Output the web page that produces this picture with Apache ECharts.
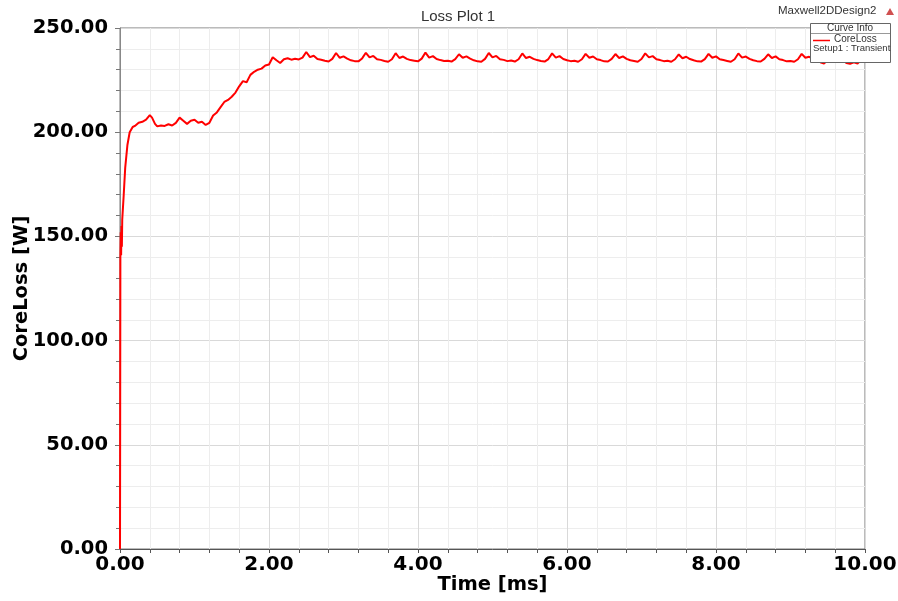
<!DOCTYPE html>
<html>
<head>
<meta charset="utf-8">
<script src="https://cdn.jsdelivr.net/npm/echarts@6/dist/echarts.min.js"></script>
<style>html,body{margin:0;padding:0;background:#fff;}#c{width:898px;height:601px;}</style>
</head>
<body>
<div id="c"></div>
<script>
const xTicks = [0, 2, 4, 6, 8, 10];
const yTicks = [0, 50, 100, 150, 200, 250];
const time = [
0.000,0.005,0.010,0.015,0.020,0.025,0.030,0.05,0.07,0.10,0.13,0.17,
0.20,0.25,0.30,0.35,0.40,0.43,0.47,0.50,0.55,0.60,0.65,0.70,0.75,0.80,0.85,0.90,0.95,
1.00,1.05,1.10,1.15,1.20,1.25,1.30,1.35,1.40,1.45,1.50,1.55,1.60,1.65,1.70,1.75,1.80,1.85,1.90,1.95,
2.00,2.05,2.10,2.15,2.20,2.25,2.30,2.35,2.40,2.45,
2.50,2.55,2.60,2.65,2.70,2.75,2.80,2.85,
2.90,2.95,3.00,3.05,3.10,3.15,3.20,3.25,
3.30,3.35,3.40,3.45,3.50,3.55,3.60,3.65,
3.70,3.75,3.80,3.85,3.90,3.95,4.00,4.05,
4.10,4.15,4.20,4.25,4.30,4.35,4.40,4.45,4.50,
4.55,4.60,4.65,4.70,4.75,4.80,4.85,4.90,
4.95,5.00,5.05,5.10,5.15,5.20,5.25,5.30,5.35,
5.40,5.45,5.50,5.55,5.60,5.65,5.70,5.75,
5.80,5.85,5.90,5.95,6.00,6.05,6.10,6.15,6.20,
6.25,6.30,6.35,6.40,6.45,6.50,6.55,6.60,
6.65,6.70,6.75,6.80,6.85,6.90,6.95,7.00,
7.05,7.10,7.15,7.20,7.25,7.30,7.35,7.40,7.45,
7.50,7.55,7.60,7.65,7.70,7.75,7.80,7.85,
7.90,7.95,8.00,8.05,8.10,8.15,8.20,8.25,
8.30,8.35,8.40,8.45,8.50,8.55,8.60,8.65,
8.70,8.75,8.80,8.85,8.90,8.95,9.00,9.05,9.10,
9.15,9.20,9.25,9.30,9.35,9.40,9.45,9.50,
9.55,9.60,9.65,9.70,9.75,9.80,9.85,9.90,9.95,
10.00
];
const coreLoss = [
0,140,152,141,155,145,158,170,183,194,200,202.5,
203,204.5,205,206,208.2,207,204,202.8,203.2,203,203.8,203.2,204.5,207,205.5,204,205.5,
206,204.5,205,203.5,204.5,208,209.5,212,214.5,215.5,217,219,222,224.5,224,227.5,229,230,230.5,232,
232.5,236,234.5,233.2,235,235.5,234.8,235.2,234.9,235.8,
238.5,236.0,236.7,235.1,234.8,234.3,233.9,235.2,
238.0,235.7,236.4,235.3,234.5,234.1,234.0,235.4,
238.1,235.9,236.6,235.0,234.7,234.2,233.8,235.0,
237.9,235.6,236.3,235.2,234.6,234.3,234.0,235.3,
238.2,235.8,236.5,235.1,234.6,234.2,234.3,233.9,235.1,
237.4,235.7,236.4,235.3,234.5,234.0,233.8,235.2,
238.0,235.9,236.6,235.0,234.7,234.1,234.4,233.9,235.0,
237.8,235.6,236.2,235.2,234.6,234.2,233.9,235.1,
237.8,235.8,236.5,235.1,234.5,234.1,234.3,233.8,235.0,
237.6,235.7,236.3,235.0,234.6,234.0,233.9,235.2,
237.5,235.6,236.4,235.2,234.5,234.2,233.8,235.1,
237.8,235.9,236.5,235.0,234.6,234.1,234.3,233.8,235.0,
237.3,235.5,236.2,235.1,234.5,234.0,233.9,235.1,
237.6,235.7,236.4,235.0,234.6,234.2,233.8,235.0,
237.8,235.8,236.3,235.2,234.5,234.1,233.9,235.2,
237.4,235.6,236.4,235.0,234.6,234.0,234.2,233.8,235.0,
237.6,235.7,236.2,235.1,234.5,233.6,233.0,234.8,
237.8,235.5,236.2,234.8,233.2,232.8,233.5,233.0,234.8,
237.5
];
const seriesData = time.map((t, i) => [t, coreLoss[i]]);

const chart = echarts.init(document.getElementById('c'), null, {renderer: 'canvas'});
const boldFont = '"DejaVu Sans", sans-serif';
const thinFont = 'Arial, "Liberation Sans", sans-serif';
chart.setOption({
  animation: false,
  backgroundColor: '#ffffff',
  title: {
    text: 'Loss Plot 1',
    left: 453, top: 4, textAlign: 'center',
    textStyle: {fontFamily: thinFont, fontSize: 15, fontWeight: 'normal', color: '#333333'}
  },
  grid: {left: 120, right: 33, top: 28, bottom: 52, containLabel: false, outerBoundsMode: 'none',
    show: true, borderColor: '#777777', borderWidth: 1, backgroundColor: 'transparent'},
  xAxis: {
    type: 'value', min: xTicks[0], max: xTicks[xTicks.length - 1], interval: 2,
    name: 'Time [ms]', nameLocation: 'middle', nameGap: 26, nameMoveOverlap: false,
    nameTextStyle: {fontFamily: boldFont, fontSize: 19.5, fontWeight: 'bold', color: '#000'},
    axisLine: {show: true, lineStyle: {color: '#555555', width: 1}},
    axisTick: {show: true, length: 4, lineStyle: {color: '#555555'}},
    minorTick: {show: true, splitNumber: 5, length: 4, lineStyle: {color: '#555555'}},
    splitLine: {show: true, lineStyle: {color: '#d9d9d9', width: 1}},
    minorSplitLine: {show: true, lineStyle: {color: '#ededed', width: 1}},
    axisLabel: {fontFamily: boldFont, fontSize: 20, fontWeight: 'bold', color: '#000', margin: 6,
      formatter: v => v.toFixed(2)}
  },
  yAxis: {
    type: 'value', min: yTicks[0], max: yTicks[yTicks.length - 1], interval: 50,
    name: 'CoreLoss [W]', nameLocation: 'middle', nameGap: 88, nameMoveOverlap: false,
    nameTextStyle: {fontFamily: boldFont, fontSize: 19.5, fontWeight: 'bold', color: '#000'},
    axisLine: {show: true, lineStyle: {color: '#888888', width: 1}},
    axisTick: {show: true, length: 5, lineStyle: {color: '#777777'}},
    minorTick: {show: true, splitNumber: 5, length: 4, lineStyle: {color: '#777777'}},
    splitLine: {show: true, lineStyle: {color: '#d9d9d9', width: 1}},
    minorSplitLine: {show: true, lineStyle: {color: '#ededed', width: 1}},
    axisLabel: {fontFamily: boldFont, fontSize: 19.5, fontWeight: 'bold', color: '#000', margin: 12,
      formatter: v => v.toFixed(2)}
  },
  series: [{
    type: 'line', name: 'CoreLoss', data: seriesData, showSymbol: false, symbol: 'none',
    lineStyle: {color: '#ff0000', width: 2}, z: 3
  }],
  graphic: [
    {type: 'text', left: 778, top: 5, z: 100,
      style: {text: 'Maxwell2DDesign2', font: '11.5px Arial, "Liberation Sans", sans-serif', fill: '#333333'}},
    {type: 'polygon', z: 100, shape: {points: [[886, 15], [890, 8], [894, 15]]}, style: {fill: '#d05050'}},
    {type: 'group', z: 100, children: [
      {type: 'rect', shape: {x: 810.5, y: 23.5, width: 80, height: 39}, style: {fill: '#ffffff', stroke: '#666666', lineWidth: 1}, z: 100},
      {type: 'line', shape: {x1: 811, y1: 33.5, x2: 890, y2: 33.5}, style: {stroke: '#999999', lineWidth: 1}, z: 101},
      {type: 'text', x: 850, y: 28.5, z: 101,
        style: {text: 'Curve Info', font: '10px Arial, "Liberation Sans", sans-serif', fill: '#333', align: 'center', verticalAlign: 'middle'}},
      {type: 'line', shape: {x1: 813, y1: 40.5, x2: 830, y2: 40.5}, style: {stroke: '#ff0000', lineWidth: 1.5}, z: 101},
      {type: 'text', x: 834, y: 39.5, z: 101,
        style: {text: 'CoreLoss', font: '10px Arial, "Liberation Sans", sans-serif', fill: '#333', verticalAlign: 'middle'}},
      {type: 'text', x: 813, y: 48.5, z: 101,
        style: {text: 'Setup1 : Transient', font: '9.5px Arial, "Liberation Sans", sans-serif', fill: '#333', verticalAlign: 'middle'}}
    ]}
  ]
});
</script>
</body>
</html>
